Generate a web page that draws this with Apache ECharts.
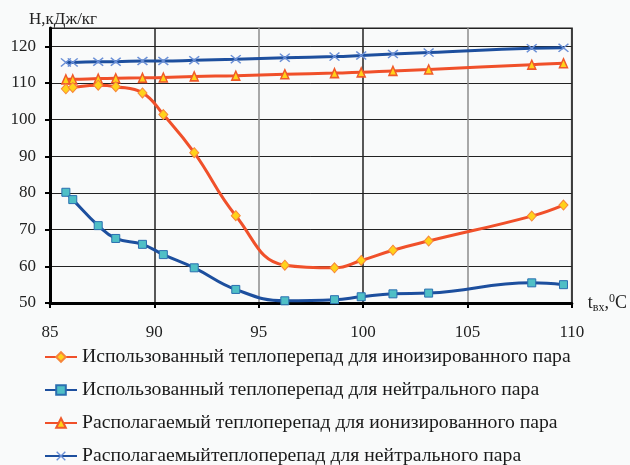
<!DOCTYPE html>
<html>
<head>
<meta charset="utf-8">
<script src="https://cdn.jsdelivr.net/npm/echarts@6/dist/echarts.min.js"></script>
<style>
html,body{margin:0;padding:0;background:#f9fafa;overflow:hidden;}
#c{width:630px;height:465px;}
</style>
</head>
<body>
<div id="c"></div>
<script>
// temperature at inlet, °C
const tIn = [85.76, 86.09, 87.31, 88.15, 89.43, 90.43, 91.91, 93.90, 96.25, 98.63, 99.91, 101.43, 103.14, 108.08, 109.6];
// Использованный теплоперепад для иноизированного пара
const usedIonized = [108.4, 108.8, 109.4, 109.0, 107.3, 101.4, 91.0, 73.8, 60.3, 59.6, 61.6, 64.4, 66.9, 73.7, 76.7];
// Использованный теплоперепад для нейтрального пара
const usedNeutral = [80.2, 78.2, 71.1, 67.6, 66.0, 63.2, 59.6, 53.7, 50.6, 50.9, 51.7, 52.5, 52.7, 55.5, 55.0];
// Располагаемый теплоперепад для ионизированного пара
const availIonized = [111.0, 111.0, 111.2, 111.3, 111.4, 111.5, 111.8, 112.0, 112.4, 112.7, 112.9, 113.3, 113.7, 115.0, 115.4];
// Располагаемый теплоперепад для нейтрального пара
const availNeutral = [115.6, 115.6, 115.8, 115.8, 116.0, 116.0, 116.2, 116.5, 116.9, 117.2, 117.5, 117.9, 118.3, 119.5, 119.6];

const names = [
  'Использованный теплоперепад для иноизированного пара',
  'Использованный теплоперепад для нейтрального пара',
  'Располагаемый теплоперепад для ионизированного пара',
  'Располагаемыйтеплоперепад для нейтрального пара'
];

const pairs = arr => arr.map((v, i) => [tIn[i], v]);
const ORANGE = '#f0502a';
const BLUE = '#1d4f9e';
const CROSS = 'path://M0,1 L1,0 L5,4 L9,0 L10,1 L6,5 L10,9 L9,10 L5,6 L1,10 L0,9 L4,5 Z';
const FONT = '"Liberation Serif", "DejaVu Serif", serif';

const chart = echarts.init(document.getElementById('c'), null, {renderer: 'canvas', width: 630, height: 465});
chart.setOption({
  backgroundColor: '#f9fafa',
  animation: false,
  textStyle: {fontFamily: FONT},
  grid: {left: 50, right: 54, top: 28, bottom: 162, show: true, borderColor: '#8c8c8c', borderWidth: 2, backgroundColor: 'transparent'},
  legend: {
    orient: 'vertical', left: 44, top: 346, height: 200, padding: 0,
    itemWidth: 32, itemHeight: 12, itemGap: 11,
    textStyle: {fontFamily: FONT, fontSize: 19.7, color: '#1a1a1a', lineHeight: 22},
    data: names
  },
  xAxis: {
    type: 'value', min: 85, max: 110, interval: 5,
    name: '{a|t}{b|вх}{a|,}{c|0}{a|C}',
    nameLocation: 'end', nameGap: 16,
    nameTextStyle: {
      verticalAlign: 'middle',
      rich: {
        a: {fontFamily: FONT, fontSize: 18, color: '#222'},
        b: {fontFamily: FONT, fontSize: 12, color: '#222', padding: [10, 0, 0, 0]},
        c: {fontFamily: FONT, fontSize: 12, color: '#222', padding: [0, 0, 8, 0]}
      }
    },
    axisLine: {lineStyle: {color: '#000', width: 3}},
    axisTick: {show: true, length: 5, lineStyle: {color: '#000', width: 2}},
    axisLabel: {fontFamily: FONT, fontSize: 17, color: '#222', margin: 21},
    splitLine: {show: true, lineStyle: {color: ['#8c8c8c', '#222'], width: 1.5}}
  },
  yAxis: {
    type: 'value', min: 50, max: 125, interval: 10,
    name: 'Н,кДж/кг',
    nameLocation: 'end', nameGap: 0,
    nameTextStyle: {fontFamily: FONT, fontSize: 17, color: '#222', align: 'left', padding: [0, 0, 0, -21]},
    axisLine: {lineStyle: {color: '#000', width: 3}},
    axisTick: {show: true, length: 5, lineStyle: {color: '#000', width: 2}},
    axisLabel: {fontFamily: FONT, fontSize: 17, color: '#222', margin: 14, showMaxLabel: false,
      formatter: v => (v % 10 === 0 ? String(v) : '')},
    splitLine: {show: true, lineStyle: {color: '#222', width: 1}}
  },
  series: [
    {
      name: names[0], type: 'line', smooth: 0.45, data: pairs(usedIonized),
      lineStyle: {color: ORANGE, width: 3}, symbol: 'diamond', symbolSize: [9, 10],
      itemStyle: {color: '#ffd21a', borderColor: '#f7863a', borderWidth: 1}, z: 4
    },
    {
      name: names[1], type: 'line', smooth: 0.45, data: pairs(usedNeutral),
      lineStyle: {color: BLUE, width: 3}, symbol: 'rect', symbolSize: 8,
      itemStyle: {color: '#4fbfc6', borderColor: '#2a6fb0', borderWidth: 1}, z: 4
    },
    {
      name: names[2], type: 'line', smooth: 0.45, data: pairs(availIonized),
      lineStyle: {color: ORANGE, width: 3}, symbol: 'triangle', symbolSize: [8, 9],
      itemStyle: {color: '#ffd21a', borderColor: '#f05a2a', borderWidth: 1.5}, z: 3
    },
    {
      name: names[3], type: 'line', smooth: 0.45, data: pairs(availNeutral),
      lineStyle: {color: BLUE, width: 3}, symbol: CROSS, symbolSize: [11, 9],
      itemStyle: {color: '#6a8fd6', borderWidth: 0}, z: 3
    }
  ]
});
</script>
</body>
</html>
